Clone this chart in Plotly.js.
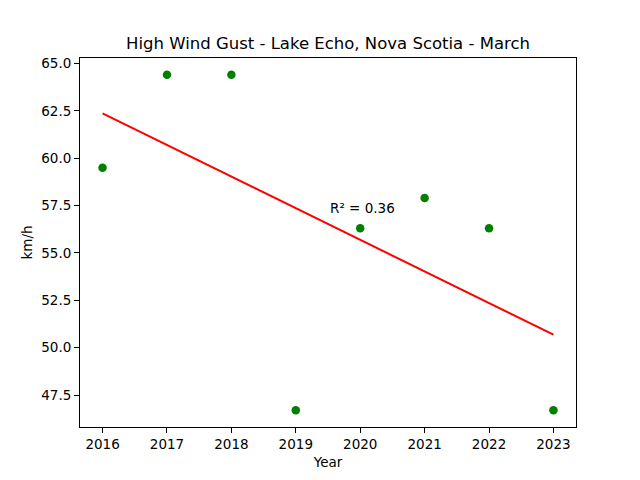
<!DOCTYPE html>
<html>
<head>
<meta charset="utf-8">
<script src="https://cdn.plot.ly/plotly-3.0.1.min.js"></script>
<style>
  html, body { margin: 0; padding: 0; background: #fff; }
  #chart { width: 640px; height: 480px; }
</style>
</head>
<body>
<div id="chart"></div>
<script>
const years = [2016, 2017, 2018, 2019, 2020, 2021, 2022, 2023];
const gusts = [59.5, 64.4, 64.4, 46.7, 56.3, 57.9, 56.3, 46.7];
const r2Label = "R² = 0.36";

// least-squares trend line through the points
const n = years.length;
const mx = years.reduce((a, b) => a + b, 0) / n;
const my = gusts.reduce((a, b) => a + b, 0) / n;
let sxy = 0, sxx = 0;
years.forEach((x, i) => { sxy += (x - mx) * (gusts[i] - my); sxx += (x - mx) ** 2; });
const slope = sxy / sxx;
const trend = years.map(x => my + slope * (x - mx));

const points = {
  x: years, y: gusts, type: "scatter", mode: "markers",
  marker: { color: "#008000", size: 8.5 },
  showlegend: false,
};
const fit = {
  x: years, y: trend, type: "scatter", mode: "lines",
  line: { color: "#ff0000", width: 2 },
  showlegend: false,
};

const axisBase = {
  showline: true, linecolor: "#000", linewidth: 1, mirror: true,
  ticks: "outside", ticklen: 5, tickcolor: "#000", tickwidth: 1,
  showgrid: false, zeroline: false,
  tickfont: { size: 13.5, color: "#000" },
};

const layout = {
  width: 640, height: 480,
  margin: { l: 80, r: 64, t: 57.6, b: 52.8 },
  paper_bgcolor: "#fff", plot_bgcolor: "#fff",
  font: { family: "DejaVu Sans", color: "#000" },
  title: {
    text: "High Wind Gust - Lake Echo, Nova Scotia - March",
    font: { size: 16.5 }, x: 0.5, xref: "paper",
    y: 1 - 43 / 480, yref: "container", yanchor: "middle",
  },
  xaxis: Object.assign({}, axisBase, {
    range: [2015.65, 2023.35], dtick: 1, tick0: 2016,
    title: { text: "Year", font: { size: 13.5 }, standoff: 6 },
  }),
  yaxis: Object.assign({}, axisBase, {
    range: [45.815, 65.285], dtick: 2.5, tick0: 45, tickformat: ".1f",
    title: { text: "km/h", font: { size: 13.5 }, standoff: 5 },
  }),
  annotations: [{
    x: 2019.5, y: 57.35, xref: "x", yref: "y", text: r2Label,
    showarrow: false, xanchor: "left", yanchor: "middle",
    font: { size: 13.5, color: "#000" },
  }],
};

Plotly.newPlot("chart", [points, fit], layout, { displayModeBar: false, staticPlot: true });
</script>
</body>
</html>
